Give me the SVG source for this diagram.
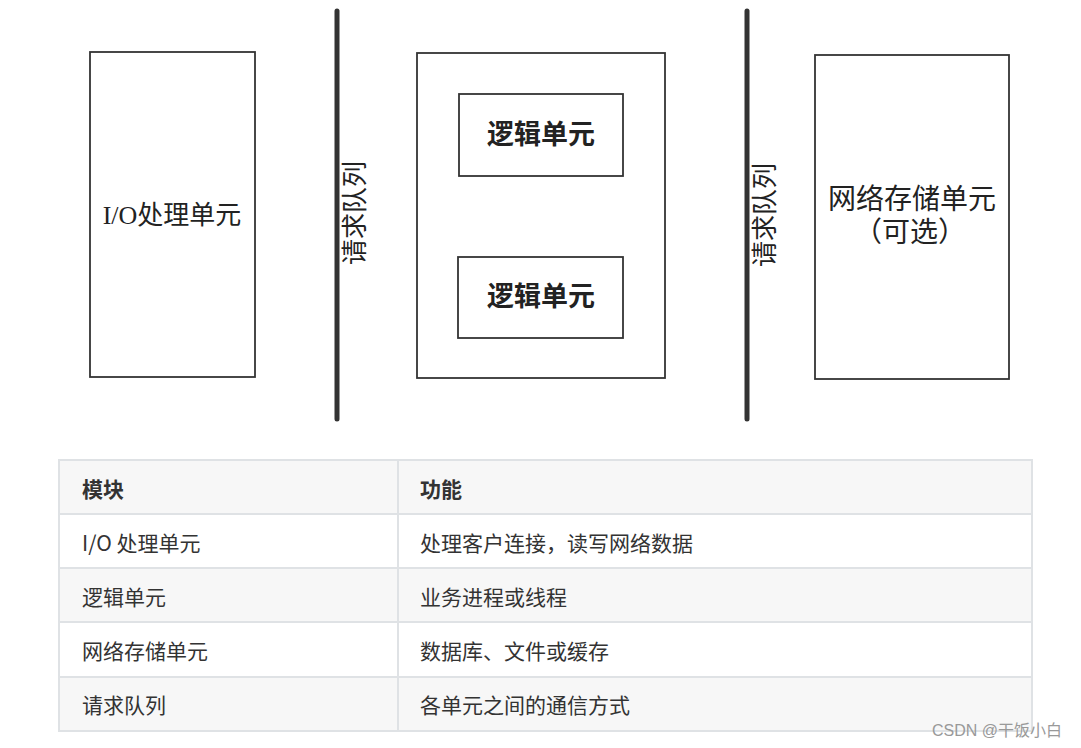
<svg xmlns="http://www.w3.org/2000/svg" width="1081" height="748" viewBox="0 0 1081 748">
<style>
.box{fill:none;stroke:#333;stroke-width:1.8}
.bar{stroke:#333;stroke-width:5;stroke-linecap:round}
.dt{font-family:"Liberation Serif","Noto Sans CJK SC",serif;fill:#222;text-anchor:middle;dominant-baseline:central}
.tt{font-family:"Noto Sans CJK SC","Liberation Sans",sans-serif;font-size:21px;fill:#333;dominant-baseline:central}
.hd{font-weight:bold}
.grid{stroke:#dfe2e5;stroke-width:2;fill:none}
</style>
<rect width="1081" height="748" fill="#fff"/>
<g id="connectors">
<line class="bar" x1="337" y1="11" x2="337" y2="419"/>
<line class="bar" x1="747" y1="11" x2="747" y2="419"/>
<text class="dt" font-size="26" transform="translate(355,213) rotate(-90)">请求队列</text>
<text class="dt" font-size="26" transform="translate(765,215) rotate(-90)">请求队列</text>
</g>
<g id="io">
<rect class="box" x="90" y="52" width="165" height="325"/>
<text class="dt" font-size="26" x="172" y="215">I/O处理单元</text>
</g>
<g id="logic-group">
<rect class="box" x="417" y="53" width="248" height="325"/>
</g>
<g id="logic1">
<rect class="box" x="459" y="94" width="164" height="82"/>
<text class="dt" font-size="27" font-weight="600" x="541" y="135">逻辑单元</text>
</g>
<g id="logic2">
<rect class="box" x="458" y="257" width="165" height="81"/>
<text class="dt" font-size="27" font-weight="600" x="541" y="297">逻辑单元</text>
</g>
<g id="storage">
<rect class="box" x="815" y="55" width="194" height="324"/>
<text class="dt" font-size="28" x="912" y="199">网络存储单元</text>
<text class="dt" font-size="28" x="910" y="232">（可选）</text>
</g>
<g id="table">
<rect x="59" y="460" width="973" height="54" fill="#f7f7f7"/>
<rect x="59" y="514" width="973" height="54" fill="#fff"/>
<rect x="59" y="568" width="973" height="54" fill="#f7f7f7"/>
<rect x="59" y="622" width="973" height="55" fill="#fff"/>
<rect x="59" y="677" width="973" height="54" fill="#f7f7f7"/>
<rect class="grid" x="59" y="460" width="973" height="271"/>
<line class="grid" x1="59" y1="514" x2="1032" y2="514"/>
<line class="grid" x1="59" y1="568" x2="1032" y2="568"/>
<line class="grid" x1="59" y1="622" x2="1032" y2="622"/>
<line class="grid" x1="59" y1="677" x2="1032" y2="677"/>
<line class="grid" x1="398" y1="460" x2="398" y2="731"/>
<text class="tt hd" x="82" y="488">模块</text>
<text class="tt hd" x="420" y="488">功能</text>
<text class="tt" x="82" y="542">I/O 处理单元</text>
<text class="tt" x="420" y="542">处理客户连接，读写网络数据</text>
<text class="tt" x="82" y="596">逻辑单元</text>
<text class="tt" x="420" y="596">业务进程或线程</text>
<text class="tt" x="82" y="650">网络存储单元</text>
<text class="tt" x="420" y="650">数据库、文件或缓存</text>
<text class="tt" x="82" y="704">请求队列</text>
<text class="tt" x="420" y="704">各单元之间的通信方式</text>
</g>
<text x="932" y="730" font-family="Liberation Sans,Noto Sans CJK SC,sans-serif" font-size="16" fill="#999" dominant-baseline="central">CSDN @干饭小白</text>
</svg>
